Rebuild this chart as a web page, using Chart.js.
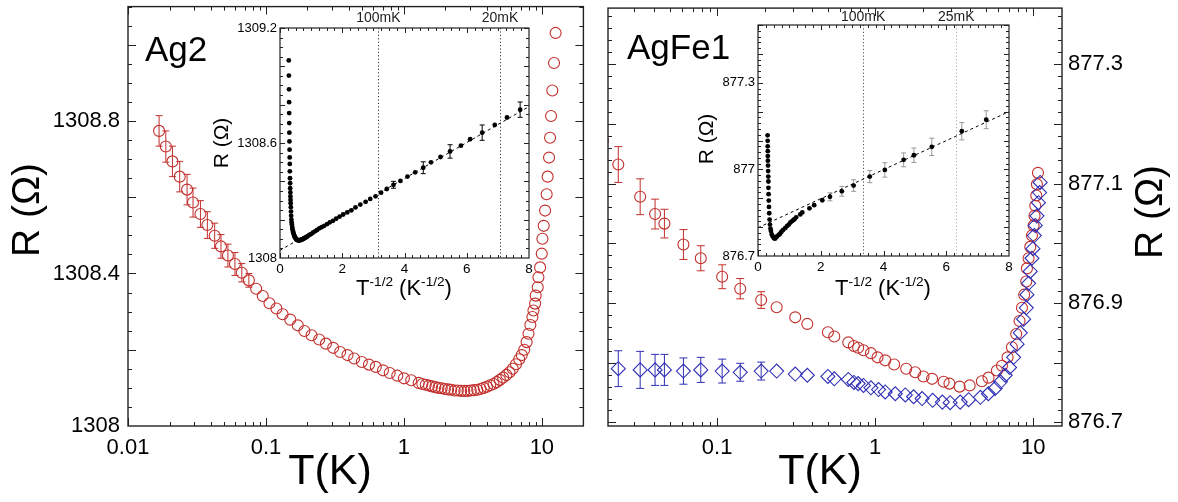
<!DOCTYPE html>
<html>
<head>
<meta charset="utf-8">
<script src="https://cdn.jsdelivr.net/npm/chart.js@4.4.0/dist/chart.umd.min.js"></script>
<style>
  body { margin: 0; background: #fff; width: 1178px; height: 502px; overflow: hidden; position: relative; }
  canvas { position: absolute; }
</style>
</head>
<body>
<canvas id="mainL" width="590" height="502" style="left:0;top:0"></canvas>
<canvas id="mainR" width="588" height="502" style="left:590px;top:0"></canvas>
<canvas id="insetL" width="340" height="302" style="left:200px;top:0"></canvas>
<canvas id="insetR" width="335" height="300" style="left:690px;top:0"></canvas>
<script>
// ---- Ag2 : R(T) ----
const ag2T = [0.0168, 0.0188, 0.0210, 0.0237, 0.0268, 0.0296, 0.0335, 0.0376, 0.0425, 0.0472,
  0.0530, 0.0596, 0.0668, 0.0752, 0.0849, 0.0948, 0.106, 0.119, 0.132, 0.150,
  0.170, 0.190, 0.214, 0.243, 0.272, 0.307, 0.345, 0.390, 0.436, 0.495,
  0.558, 0.625, 0.705, 0.789, 0.895, 1.00, 1.13, 1.28,
  1.36, 1.44, 1.52, 1.60, 1.69, 1.78, 1.88, 1.98, 2.09, 2.20,
  2.33, 2.46, 2.60, 2.74, 2.89, 3.05, 3.22, 3.40, 3.59, 3.79,
  4.00, 4.22, 4.46, 4.70, 4.96, 5.24, 5.53, 5.83, 6.15, 6.49,
  6.85, 7.15, 7.45, 7.75, 8.00, 8.25, 8.54, 8.69, 8.93, 9.02,
  9.33, 9.44, 9.71, 9.98, 10.09, 10.31, 10.55, 10.83, 11.01, 11.27,
  11.46, 11.65, 11.90, 12.25, 12.58];
const ag2R = [1308.774, 1308.733, 1308.694, 1308.654, 1308.620, 1308.586, 1308.556, 1308.527, 1308.499, 1308.471,
  1308.447, 1308.425, 1308.402, 1308.382, 1308.360, 1308.341, 1308.322, 1308.308, 1308.293, 1308.279,
  1308.264, 1308.249, 1308.238, 1308.227, 1308.216, 1308.205, 1308.194, 1308.186, 1308.177, 1308.168,
  1308.161, 1308.155, 1308.146, 1308.139, 1308.132, 1308.125, 1308.120, 1308.113,
  1308.110, 1308.108, 1308.106, 1308.104, 1308.102, 1308.100, 1308.099, 1308.097, 1308.096, 1308.095,
  1308.093, 1308.093, 1308.092, 1308.092, 1308.092, 1308.093, 1308.094, 1308.095, 1308.097, 1308.100,
  1308.103, 1308.107, 1308.110, 1308.115, 1308.121, 1308.127, 1308.134, 1308.141, 1308.150, 1308.162,
  1308.175, 1308.186, 1308.200, 1308.220, 1308.242, 1308.265, 1308.286, 1308.303, 1308.321, 1308.342,
  1308.364, 1308.390, 1308.416, 1308.452, 1308.491, 1308.525, 1308.565, 1308.608, 1308.654, 1308.704,
  1308.756, 1308.813, 1308.880, 1308.952, 1309.031];
// error bars on the first points only
const ag2Err = [0.040, 0.041, 0.040, 0.040, 0.040, 0.038, 0.035, 0.035, 0.033, 0.031, 0.030, 0.030, 0.024, 0.018];
const ag2InsetErrIdx = [0, 3, 6, 9, 13];
// inset: dashed fit (at x = 0 and x = 8) and marked temperatures
const insetFitX = [0, 8];
const ag2Fit = [1308.04, 1308.79];
const ag2Marks = [3.16, 7.07];
const ag2MarkLabels = ['100mK', '20mK'];

// ---- AgFe1 : R(T), red circles ----
const feT = [0.0189, 0.0237, 0.0326, 0.0405, 0.0464, 0.0612, 0.0788, 0.1076, 0.140, 0.190,
  0.238, 0.312, 0.372, 0.502, 0.551, 0.676, 0.733, 0.780, 0.843, 0.940,
  1.035, 1.157, 1.318, 1.571, 1.791, 2.02, 2.29, 2.71, 2.95, 3.42,
  3.96, 4.73, 5.21, 5.89, 6.34, 6.88, 7.33, 7.80, 8.19, 8.48,
  8.76, 9.03, 9.12, 9.34, 9.57, 9.81, 10.05, 10.19, 10.30, 10.45,
  10.55, 10.71];
const feR = [877.172, 877.132, 877.078, 877.049, 877.033, 876.998, 876.975, 876.944, 876.924, 876.905,
  876.893, 876.876, 876.865, 876.851, 876.844, 876.834, 876.828, 876.825, 876.821, 876.816,
  876.809, 876.804, 876.797, 876.790, 876.784, 876.777, 876.773, 876.768, 876.765, 876.760,
  876.762, 876.769, 876.775, 876.787, 876.795, 876.809, 876.826, 876.848, 876.870, 876.892,
  876.914, 876.936, 876.958, 876.975, 876.994, 877.013, 877.030, 877.046, 877.063, 877.080,
  877.099, 877.118];
const feErr = [0.031, 0.030, 0.030, 0.025, 0.024, 0.025, 0.021, 0.020, 0.017, 0.014];

// ---- AgFe1 : blue diamonds ----
const feBlueT = [0.0237, 0.0326, 0.0405, 0.0464, 0.0612, 0.0788, 0.1076, 0.140, 0.190, 0.238,
  0.312, 0.372, 0.502, 0.551, 0.676, 0.733, 0.780, 0.843, 0.940, 1.05,
  1.157, 1.34, 1.55, 1.75, 1.98, 2.31, 2.66, 2.98, 3.45, 3.90,
  4.63, 5.20, 5.74, 6.20, 6.65, 7.08, 7.51, 7.90, 8.27, 8.69,
  9.03, 9.12, 9.34, 9.57, 9.81, 9.96, 10.16, 10.30, 10.55, 10.79,
  10.96, 11.06];
const feBlueR = [876.790, 876.788, 876.788, 876.788, 876.786, 876.788, 876.786, 876.784, 876.786, 876.786,
  876.781, 876.779, 876.777, 876.773, 876.772, 876.767, 876.765, 876.762, 876.758, 876.755,
  876.751, 876.748, 876.746, 876.743, 876.740, 876.737, 876.734, 876.733, 876.734, 876.738,
  876.742, 876.748, 876.757, 876.768, 876.779, 876.792, 876.809, 876.831, 876.850, 876.873,
  876.892, 876.914, 876.933, 876.953, 876.975, 876.991, 877.013, 877.030, 877.046, 877.068,
  877.085, 877.102];
const feBlueErr = [0.030, 0.031, 0.026, 0.026, 0.022, 0.021, 0.020, 0.015, 0.015];
const feFit = [876.798, 877.200];
const feMarks = [3.35, 6.32];
const feMarkLabels = ['100mK', '25mK'];

// ---- tick labels ----
const mainLXTicks = [0.01, 0.1, 1, 10];
const mainLYTicks = [1308, 1308.4, 1308.8];
const mainRXTicks = [0.1, 1, 10];
const mainRYTicks = [876.7, 876.9, 877.1, 877.3];
const insetXTicks = [0, 2, 4, 6, 8];
const insetLYTicks = [1308, 1308.6, 1309.2];
const insetRYTicks = [876.7, 877, 877.3];

const RED = '#c22f2c';
const BLUE = '#2f2fb5';
const FONT = "'Liberation Sans', Arial, Helvetica, sans-serif";
Chart.defaults.font.family = FONT;
Chart.defaults.color = '#000';
Chart.defaults.animation = false;

// tick positions for the box (small inward marks)
function steps(from, to, step) {
  const out = [];
  for (let v = from; v <= to + step / 1000; v += step) out.push(Math.round(v * 1000) / 1000);
  return out;
}
function logMinor(decades) {
  const out = [];
  decades.forEach(d => { for (let k = 2; k <= 9; k++) out.push(d * k); });
  return out;
}

const pts = (xs, ys) => xs.map((x, i) => ({ x: x, y: ys[i] }));
const invSqrt = (xs, ys) => xs.map((t, i) => ({ x: 1 / Math.sqrt(t), y: ys[i] }));
const errs = (n, list) => Array.from({ length: n }, (_, i) => (list[i] === undefined ? null : list[i]));

function drawText(ctx, it) {
  ctx.save();
  ctx.fillStyle = it.color || '#000';
  ctx.translate(it.x, it.y);
  if (it.rot) ctx.rotate(it.rot);
  if (it.parts) {
    // text with superscripts
    let w = 0;
    it.parts.forEach(p => {
      ctx.font = (p.sup ? it.size * 0.62 : it.size) + 'px ' + FONT;
      w += ctx.measureText(p.t).width;
    });
    let cx = -w / 2;
    ctx.textAlign = 'left';
    ctx.textBaseline = 'alphabetic';
    it.parts.forEach(p => {
      ctx.font = (p.sup ? it.size * 0.62 : it.size) + 'px ' + FONT;
      ctx.fillText(p.t, cx, p.sup ? -it.size * 0.42 : 0);
      cx += ctx.measureText(p.t).width;
    });
  } else {
    ctx.font = it.size + 'px ' + FONT;
    ctx.textAlign = it.align || 'center';
    ctx.textBaseline = it.base || 'middle';
    ctx.fillText(it.t, 0, 0);
  }
  ctx.restore();
}

const boxPlugin = {
  id: 'box',
  beforeDraw(chart, args, o) {
    if (!o.fill) return;
    const a = chart.chartArea, ctx = chart.ctx;
    ctx.save();
    ctx.fillStyle = '#fff';
    ctx.fillRect(a.left, a.top, a.right - a.left, a.bottom - a.top);
    ctx.restore();
  },
  beforeDatasetsDraw(chart, args, o) {
    const ctx = chart.ctx, a = chart.chartArea;
    const xs = chart.scales.x, ys = chart.scales.y;
    ctx.save();
    ctx.beginPath();
    ctx.rect(a.left, a.top, a.right - a.left, a.bottom - a.top);
    ctx.clip();
    // dotted temperature marks
    (o.marks || []).forEach(m => {
      const px = Math.round(xs.getPixelForValue(m.x)) + 0.5;
      ctx.strokeStyle = m.color;
      ctx.lineWidth = 1;
      ctx.setLineDash([1.2, 2.2]);
      ctx.beginPath();
      ctx.moveTo(px, a.top);
      ctx.lineTo(px, a.bottom);
      ctx.stroke();
    });
    ctx.setLineDash([]);
    // error bars
    chart.data.datasets.forEach(ds => {
      if (!ds.errors) return;
      ctx.strokeStyle = ds.errColor;
      ctx.lineWidth = 1;
      ds.data.forEach((p, i) => {
        const e = ds.errors[i];
        if (e == null) return;
        const px = xs.getPixelForValue(p.x);
        const y1 = ys.getPixelForValue(p.y - e);
        const y2 = ys.getPixelForValue(p.y + e);
        const c = ds.capHalf;
        ctx.beginPath();
        ctx.moveTo(px, y1); ctx.lineTo(px, y2);
        ctx.moveTo(px - c, y1); ctx.lineTo(px + c, y1);
        ctx.moveTo(px - c, y2); ctx.lineTo(px + c, y2);
        ctx.stroke();
      });
    });
    ctx.restore();
  },
  afterDraw(chart, args, o) {
    const ctx = chart.ctx, a = chart.chartArea;
    const xs = chart.scales.x, ys = chart.scales.y;
    ctx.save();
    ctx.strokeStyle = '#222';
    ctx.lineWidth = o.lw;
    ctx.strokeRect(a.left, a.top, a.right - a.left, a.bottom - a.top);
    ctx.lineWidth = 1;
    const xTick = (v, len) => {
      const px = Math.round(xs.getPixelForValue(v)) + 0.5;
      if (px < a.left || px > a.right) return;
      ctx.beginPath();
      ctx.moveTo(px, a.bottom); ctx.lineTo(px, a.bottom - len);
      ctx.moveTo(px, a.top); ctx.lineTo(px, a.top + len);
      ctx.stroke();
    };
    const yTick = (v, len) => {
      const py = Math.round(ys.getPixelForValue(v)) + 0.5;
      if (py < a.top || py > a.bottom) return;
      ctx.beginPath();
      ctx.moveTo(a.left, py); ctx.lineTo(a.left + len, py);
      ctx.moveTo(a.right, py); ctx.lineTo(a.right - len, py);
      ctx.stroke();
    };
    o.xMinor.forEach(v => xTick(v, o.minLen));
    o.xMajor.forEach(v => xTick(v, o.majLen));
    o.yMinor.forEach(v => yTick(v, o.minLen));
    o.yMajor.forEach(v => yTick(v, o.majLen));
    ctx.restore();
    (o.texts || []).forEach(it => drawText(ctx, it));
    (o.markLabels || []).forEach(m => drawText(ctx, {
      t: m.t, x: xs.getPixelForValue(m.x), y: m.y, size: m.size, color: '#222'
    }));
  }
};

function axis(c) {
  return {
    type: c.type || 'linear',
    position: c.position,
    bounds: 'data',
    min: c.min,
    max: c.max,
    grid: { display: false, drawTicks: false },
    border: { display: false },
    afterBuildTicks: s => { s.ticks = c.ticks.map(v => ({ value: v })); },
    afterFit: s => {
      if (c.width != null) s.width = c.width;
      if (c.height != null) s.height = c.height;
      // keep the plot box exactly where the layout padding puts it
      s.paddingTop = 0; s.paddingBottom = 0; s.paddingLeft = 0; s.paddingRight = 0;
    },
    ticks: {
      font: { size: c.size },
      color: '#000',
      padding: c.pad,
      maxRotation: 0,
      minRotation: 0,
      autoSkip: false,
      callback: v => String(Number(Number(v).toFixed(2)))
    }
  };
}

function makeChart(id, datasets, scales, padding, box) {
  return new Chart(document.getElementById(id), {
    type: 'scatter',
    data: { datasets: datasets },
    options: {
      responsive: false,
      devicePixelRatio: 1,
      animation: false,
      layout: { padding: padding },
      plugins: { legend: { display: false }, tooltip: { enabled: false }, box: box },
      scales: scales
    },
    plugins: [boxPlugin]
  });
}

// ---------- left main panel: Ag2 ----------
makeChart('mainL', [{
  data: pts(ag2T, ag2R),
  errors: errs(ag2T.length, ag2Err), errColor: RED, capHalf: 3.5,
  pointStyle: 'circle', pointRadius: 5.5, pointBorderWidth: 1.1,
  borderColor: RED, backgroundColor: 'rgba(0,0,0,0)'
}], {
  x: axis({ type: 'logarithmic', min: 0.01, max: 20, ticks: mainLXTicks, height: 76, size: 22, pad: 9 }),
  y: axis({ min: 1308, max: 1309.1, ticks: mainLYTicks, width: 128, size: 22, pad: 8 })
}, { top: 4, right: 5, left: 0, bottom: 0 }, {
  lw: 1.4, majLen: 8, minLen: 4,
  xMajor: mainLXTicks, xMinor: logMinor([0.01, 0.1, 1, 10]),
  yMajor: steps(1308, 1309.1, 0.2), yMinor: steps(1308, 1309.1, 0.05),
  texts: [
    { t: 'Ag2', x: 145, y: 61, size: 35, align: 'left', base: 'alphabetic' },
    { t: 'R (Ω)', x: 28, y: 210, size: 39, rot: -Math.PI / 2 },
    { t: 'T(K)', x: 330, y: 472, size: 43 }
  ]
});

// ---------- right main panel: AgFe1 ----------
makeChart('mainR', [{
  data: pts(feBlueT, feBlueR),
  errors: errs(feBlueT.length, feBlueErr), errColor: BLUE, capHalf: 4,
  pointStyle: 'rectRot', pointRadius: 7, pointBorderWidth: 1.1,
  borderColor: BLUE, backgroundColor: 'rgba(0,0,0,0)'
}, {
  data: pts(feT, feR),
  errors: errs(feT.length, feErr), errColor: RED, capHalf: 4,
  pointStyle: 'circle', pointRadius: 5.5, pointBorderWidth: 1.1,
  borderColor: RED, backgroundColor: 'rgba(0,0,0,0)'
}], {
  x: axis({ type: 'logarithmic', min: 0.0204, max: 15.2, ticks: mainRXTicks, height: 76, size: 22, pad: 9 }),
  y: axis({ position: 'right', min: 876.694, max: 877.394, ticks: mainRYTicks, width: 116, size: 22, pad: 6 })
}, { top: 4, right: 0, left: 18, bottom: 0 }, {
  lw: 1.4, majLen: 8, minLen: 4,
  xMajor: mainRXTicks, xMinor: logMinor([0.01, 0.1, 1, 10]),
  yMajor: steps(876.7, 877.3, 0.1), yMinor: steps(876.7, 877.38, 0.02),
  texts: [
    { t: 'AgFe1', x: 37, y: 59, size: 35, align: 'left', base: 'alphabetic' },
    { t: 'R (Ω)', x: 561, y: 212, size: 39, rot: -Math.PI / 2 },
    { t: 'T(K)', x: 230, y: 472, size: 43 }
  ]
});

const xTitle = [{ t: 'T' }, { t: '-1/2', sup: true }, { t: ' (K' }, { t: '-1/2', sup: true }, { t: ')' }];

// ---------- inset Ag2: R vs T^-1/2 ----------
makeChart('insetL', [{
  data: pts(insetFitX, ag2Fit), showLine: true,
  borderColor: '#000', borderWidth: 1, borderDash: [3, 3], pointRadius: 0
}, {
  data: invSqrt(ag2T, ag2R),
  errors: ag2R.map((_, i) => (ag2InsetErrIdx.includes(i) ? ag2Err[i] : null)), errColor: '#000', capHalf: 2.5,
  pointStyle: 'circle', pointRadius: 2.4, pointBorderWidth: 0,
  backgroundColor: '#000', borderColor: '#000'
}], {
  x: axis({ min: 0, max: 8, ticks: insetXTicks, height: 44, size: 13.5, pad: 3 }),
  y: axis({ min: 1308, max: 1309.2, ticks: insetLYTicks, width: 80, size: 13, pad: 3 })
}, { top: 28, right: 11, left: 0, bottom: 0 }, {
  fill: true, lw: 1.2, majLen: 5, minLen: 3,
  xMajor: insetXTicks, xMinor: steps(0, 8, 0.25),
  yMajor: steps(1308, 1309.2, 0.2), yMinor: steps(1308, 1309.2, 0.05),
  marks: ag2Marks.map(x => ({ x: x, color: '#333' })),
  markLabels: ag2Marks.map((x, i) => ({ x: x, t: ag2MarkLabels[i], y: 18, size: 14 })),
  texts: [
    { t: 'R (Ω)', x: 22, y: 143, size: 21, rot: -Math.PI / 2 },
    { parts: xTitle, x: 204, y: 295, size: 22 }
  ]
});

// ---------- inset AgFe1: R vs T^-1/2 ----------
makeChart('insetR', [{
  data: pts(insetFitX, feFit), showLine: true,
  borderColor: '#000', borderWidth: 1, borderDash: [3, 3], pointRadius: 0
}, {
  data: invSqrt(feT, feR),
  errors: errs(feT.length, feErr), errColor: '#999', capHalf: 2.5,
  pointStyle: 'circle', pointRadius: 2.4, pointBorderWidth: 0,
  backgroundColor: '#000', borderColor: '#000'
}], {
  x: axis({ min: 0, max: 8, ticks: insetXTicks, height: 44, size: 13.5, pad: 3 }),
  y: axis({ min: 876.7, max: 877.5, ticks: insetRYTicks, width: 68, size: 13, pad: 3 })
}, { top: 25, right: 16, left: 0, bottom: 0 }, {
  fill: true, lw: 1.2, majLen: 5, minLen: 3,
  xMajor: insetXTicks, xMinor: steps(0, 8, 0.25),
  yMajor: steps(876.7, 877.5, 0.1), yMinor: steps(876.7, 877.5, 0.02),
  marks: feMarks.map((x, i) => ({ x: x, color: i === 0 ? '#555' : '#aaa' })),
  markLabels: feMarks.map((x, i) => ({ x: x, t: feMarkLabels[i], y: 17, size: 14 })),
  texts: [
    { t: 'R (Ω)', x: 17, y: 139, size: 21, rot: -Math.PI / 2 },
    { parts: xTitle, x: 193, y: 295, size: 22 }
  ]
});
</script>
</body>
</html>
